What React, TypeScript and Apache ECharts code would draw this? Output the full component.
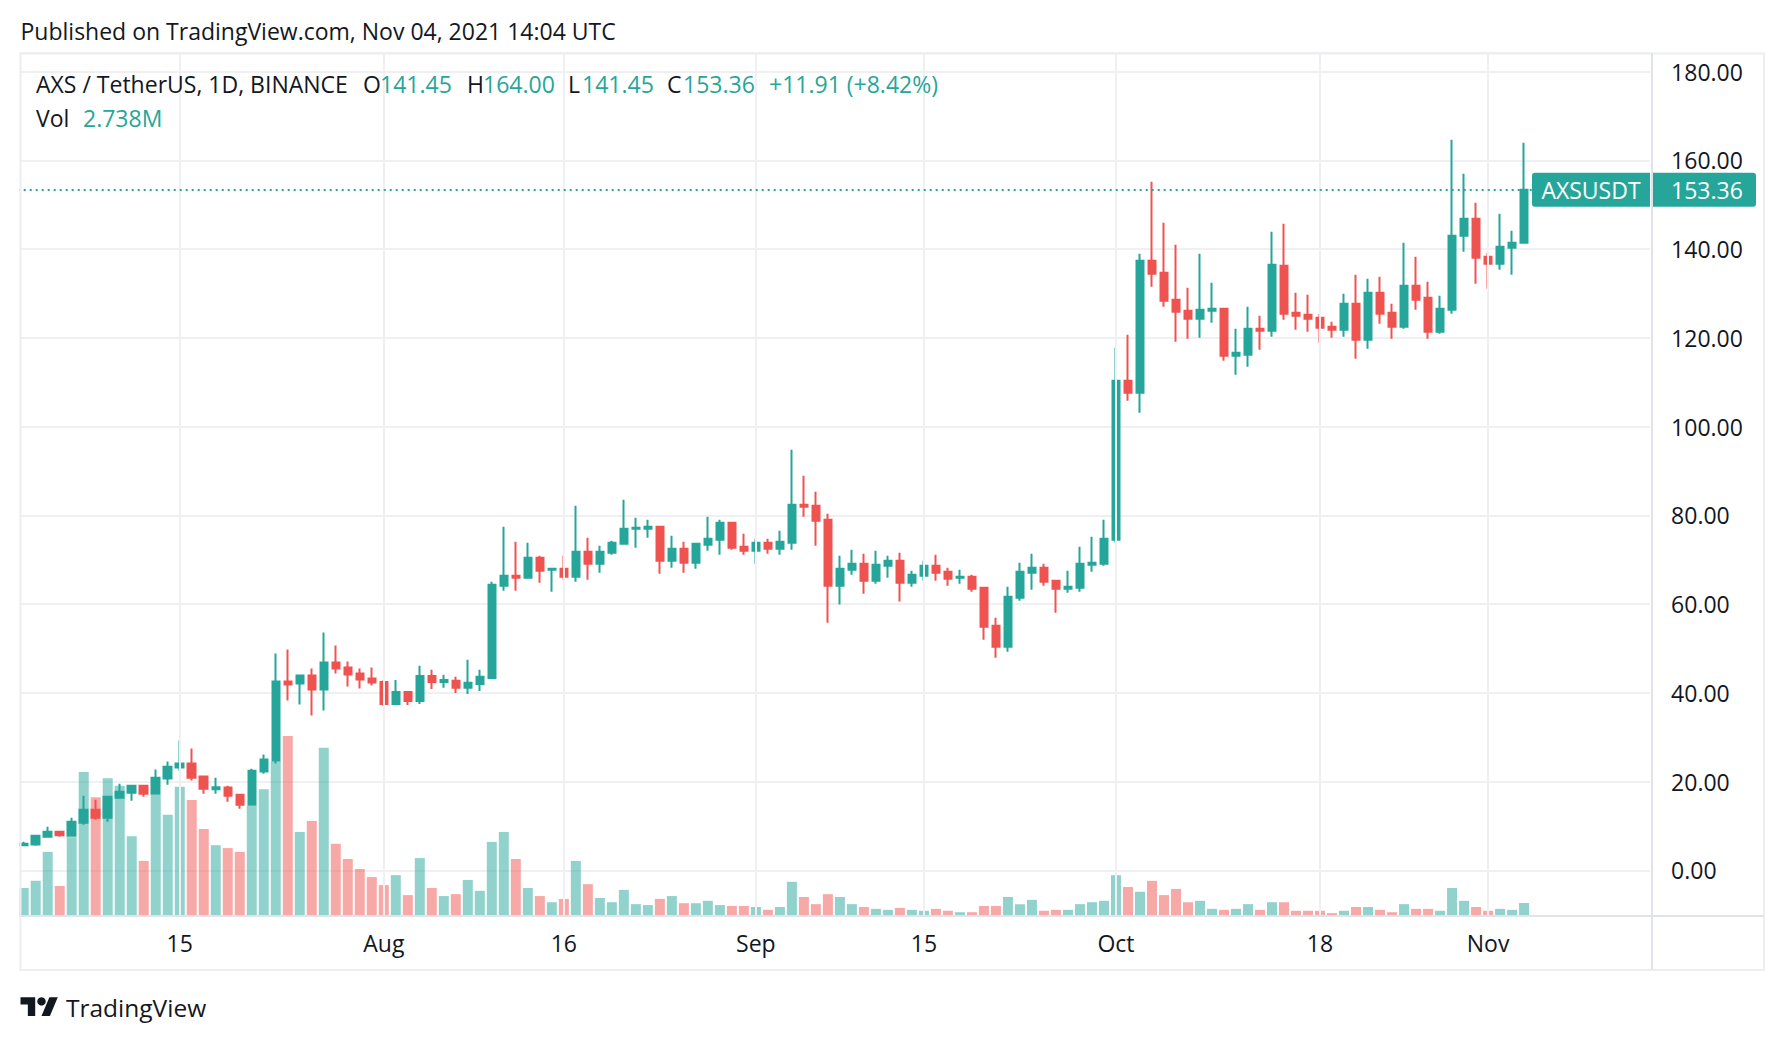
import React, { useEffect, useRef } from "react";
import * as echarts from "echarts";

// ---------- data ----------
// candles: [open, close, low, high]
const julCandles: number[][] = [
  [5.64, 6.02, 5.56, 6.47], [5.86, 7.82, 5.56, 8.05], [7.59, 8.72, 7.37, 9.85], [8.72, 7.89, 7.59, 8.95],
  [7.82, 10.98, 7.82, 11.88], [10.75, 13.68, 10.3, 16.84], [13.68, 11.88, 11.43, 15.94], [11.88, 16.62, 10.98, 16.84],
  [16.39, 17.74, 16.17, 19.55], [17.52, 19.1, 15.71, 19.32], [19.1, 17.29, 16.62, 19.32], [17.29, 20.9, 17.29, 22.71],
  [20.68, 23.38, 19.32, 24.51], [23.16, 24.06, 22.48, 29.25], [24.06, 20.9, 20.23, 27.44], [21.13, 18.42, 17.29, 21.35],
  [18.27, 18.72, 17.29, 20.9], [18.65, 16.84, 15.49, 19.1], [17.07, 14.81, 13.91, 17.29], [14.81, 22.48, 14.59, 22.93],
  [22.26, 24.96, 21.8, 26.09], [24.74, 42.56, 24.06, 48.88], [42.56, 41.88, 38.27, 49.78], [42.11, 43.91, 37.37, 44.14],
  [43.91, 40.75, 34.89, 45.49], [40.75, 46.84, 36.02, 53.61], [46.84, 45.49, 44.36, 50.67], [45.72, 44.14, 41.43, 47.07],
  [44.36, 43.01, 40.98, 45.49], [43.24, 42.33, 41.65, 45.72],
];
const augCandles: number[][] = [
  [42.48, 37.52, 37.07, 42.93], [37.52, 40.22, 37.52, 42.93], [40.22, 38.19, 37.29, 40.22], [38.19, 43.83, 37.52, 46.09],
  [43.83, 42.48, 40.9, 45.19], [42.48, 42.93, 41.13, 44.06], [42.71, 41.13, 40.0, 43.61], [41.13, 42.26, 39.77, 47.44],
  [42.03, 43.61, 40.45, 45.19], [43.38, 64.36, 43.16, 65.04], [64.13, 66.39, 63.0, 77.44], [66.39, 65.94, 63.0, 74.06],
  [65.94, 70.45, 65.71, 73.83], [70.45, 67.52, 64.81, 70.9], [67.74, 67.97, 62.78, 67.97], [67.97, 66.17, 65.49, 70.9],
  [66.17, 71.8, 65.04, 82.18], [71.8, 69.1, 65.49, 74.96], [69.1, 71.8, 67.07, 73.16], [71.58, 73.83, 71.13, 74.29],
  [73.61, 76.99, 73.38, 83.53], [76.99, 77.22, 72.71, 79.47], [76.99, 77.44, 74.96, 79.02], [77.44, 69.77, 66.84, 77.67],
  [69.77, 72.48, 68.2, 75.41], [72.48, 69.32, 67.07, 74.06], [69.32, 73.61, 67.97, 73.61], [73.38, 74.74, 72.03, 79.7],
  [74.51, 78.35, 71.13, 79.02], [78.35, 72.71, 72.26, 78.35], [72.93, 72.03, 71.13, 75.86],
];
const sepCandles: number[][] = [
  [72.03, 73.83, 69.1, 74.74], [73.83, 72.48, 71.35, 74.74], [72.48, 74.06, 71.13, 76.54], [73.83, 82.41, 72.26, 94.81],
  [82.41, 81.95, 79.7, 88.95], [82.18, 78.8, 73.16, 85.34], [79.02, 64.13, 55.79, 80.38], [64.13, 67.97, 59.92, 70.9],
  [67.74, 69.1, 66.62, 72.26], [69.1, 65.26, 62.33, 71.35], [65.26, 68.87, 64.58, 72.03], [68.65, 69.77, 65.94, 70.9],
  [69.77, 64.81, 60.6, 71.58], [64.81, 66.62, 63.91, 67.52], [66.39, 68.65, 65.26, 69.77], [68.65, 67.07, 65.26, 71.13],
  [67.29, 65.71, 64.13, 68.2], [65.94, 66.17, 64.58, 67.74], [66.17, 63.46, 62.78, 66.62], [63.68, 54.89, 51.96, 63.91],
  [55.11, 50.38, 47.9, 56.92], [50.38, 61.65, 49.25, 63.91], [61.43, 67.29, 60.75, 69.32], [67.07, 68.2, 63.23, 71.35],
  [68.2, 65.04, 64.13, 69.1], [65.26, 63.46, 58.05, 65.49], [63.46, 63.91, 62.55, 67.52], [63.68, 69.1, 62.78, 72.93],
  [68.87, 69.32, 67.29, 75.19], [69.1, 74.74, 68.65, 79.02],
];
const octCandles: number[][] = [
  [74.51, 110.35, 73.84, 117.78], [110.35, 107.64, 105.84, 120.71], [107.64, 137.39, 103.13, 138.97], [137.39, 134.46, 131.53, 155.19],
  [134.68, 128.37, 127.02, 145.95], [128.6, 125.9, 119.13, 141.0], [126.12, 124.32, 119.81, 131.3], [124.32, 126.35, 120.04, 138.97],
  [126.12, 126.57, 123.42, 132.43], [126.57, 115.98, 114.85, 126.57], [115.98, 116.66, 111.7, 122.06], [116.2, 122.06, 113.5, 127.02],
  [122.06, 121.61, 117.33, 125.0], [121.61, 136.49, 120.26, 143.92], [136.26, 125.44, 124.09, 145.73], [125.67, 124.99, 121.84, 130.18],
  [125.22, 124.32, 121.39, 129.73], [124.54, 122.29, 118.91, 125.44], [122.51, 121.84, 120.04, 123.64], [121.84, 127.7, 120.26, 129.95],
  [127.7, 119.58, 115.3, 134.23], [119.58, 130.18, 117.56, 133.33], [130.18, 125.44, 123.19, 133.78], [125.67, 122.51, 119.81, 127.7],
  [122.51, 131.76, 122.06, 141.45], [131.76, 128.6, 126.35, 138.29], [129.05, 121.39, 119.81, 132.66], [121.39, 126.57, 120.94, 129.5],
  [126.35, 143.02, 125.44, 164.66], [143.02, 146.85, 139.42, 156.99], [146.85, 138.06, 132.21, 150.46],
];
const novCandles: number[][] = [
  [138.29, 136.71, 131.08, 139.19], [136.71, 140.54, 135.36, 147.98], [140.32, 141.45, 134.23, 144.15], [141.45, 153.36, 141.45, 164.0],
];

// volume, millions
const julVol = [5.9, 7.4, 13.5, 6.3, 16.6, 30.3, 25.0, 29.0, 27.4, 16.8, 11.6, 25.5, 21.3, 27.2, 24.4, 18.3, 14.9, 14.3, 13.5, 23.2, 26.7, 32.6, 37.9, 17.7, 20.0, 35.4, 15.2, 12.0, 9.9, 8.2];
const augVol = [6.5, 8.6, 4.4, 12.2, 5.9, 4.2, 4.6, 7.6, 5.3, 15.6, 17.7, 12.0, 5.9, 4.2, 2.9, 3.6, 11.6, 6.7, 3.8, 2.9, 5.5, 2.5, 2.3, 3.6, 4.2, 2.7, 2.7, 3.2, 2.3, 2.1, 2.1];
const sepVol = [1.9, 1.3, 1.9, 7.2, 4.0, 2.5, 4.6, 4.0, 2.5, 1.9, 1.5, 1.3, 1.7, 1.3, 1.1, 1.5, 1.1, 0.8, 0.8, 2.1, 2.1, 4.0, 2.5, 3.4, 1.1, 1.3, 1.3, 2.5, 2.9, 3.2];
const octVol = [8.6, 6.1, 5.1, 7.4, 4.4, 5.7, 2.9, 3.2, 1.5, 1.3, 1.5, 2.5, 1.3, 2.9, 2.9, 1.1, 1.1, 1.1, 0.6, 1.1, 1.9, 1.9, 1.3, 0.8, 2.5, 1.5, 1.5, 1.1, 5.9, 3.2, 1.9];
const novVol = [1.1, 1.5, 1.3, 2.738];

const FIRST_DATE_INDEX = 1; // Jul 2 (categories start Jul 1)
const DAY_COUNT = 137; // Jul 1 .. Nov 14
const tickLabels: Record<string, string> = {
  "2021-07-15": "15", "2021-08-01": "Aug", "2021-08-16": "16", "2021-09-01": "Sep",
  "2021-09-15": "15", "2021-10-01": "Oct", "2021-10-18": "18", "2021-11-01": "Nov",
};
const priceTicks = [0, 20, 40, 60, 80, 100, 120, 140, 160, 180];
const LAST_CLOSE = 153.36;
const SYMBOL = "AXSUSDT";
const TITLE = "Published on TradingView.com, Nov 04, 2021 14:04 UTC";
const INFO = { name: "AXS / TetherUS, 1D, BINANCE", o: "141.45", h: "164.00", l: "141.45", c: "153.36", chg: "+11.91 (+8.42%)", vol: "2.738M" };

const categories: string[] = [];
for (let i = 0; i < DAY_COUNT; i++) {
  categories.push(new Date(Date.UTC(2021, 6, 1 + i)).toISOString().slice(0, 10));
}

const UP = "#26a69a";
const DOWN = "#ef5350";
const UP_VOL = "rgba(38,166,154,0.5)";
const DOWN_VOL = "rgba(239,83,80,0.5)";
const TXT = "#131722";
const FONT = "'Open Sans', 'Liberation Sans', Arial, sans-serif";
const FS = 23;

const TV_PATH = "M14 22H7V11H0V4h14v18zM28 22h-8l7.5-18h8L28 22z";
echarts.graphic.registerShape("tvlogo", echarts.graphic.extendPath(TV_PATH, {}) as any);

export default function App() {
  const ref = useRef<HTMLDivElement>(null);
  useEffect(() => {
    const chart = echarts.init(ref.current!, null, { renderer: "svg", width: 1784, height: 1042 });
    const ohlc = [...julCandles, ...augCandles, ...sepCandles, ...octCandles, ...novCandles];
    const vols = [...julVol, ...augVol, ...sepVol, ...octVol, ...novVol];
    const candleData = ohlc.map((d, i) => [categories[i + FIRST_DATE_INDEX], d[0], d[1], d[2], d[3]]);
    const volData = vols.map((v, i) => ({
      value: [categories[i + FIRST_DATE_INDEX], v],
      itemStyle: { color: ohlc[i][1] >= ohlc[i][0] ? UP_VOL : DOWN_VOL },
    }));
    const t = (id: string, x: number, y: number, text: string, fill: string, size = FS, align = "left") => ({
      type: "text", id, x, y, z: 120,
      style: { text, fill, fontSize: size, fontFamily: FONT, align, verticalAlign: "middle" },
    });

    chart.setOption({
      animation: false,
      backgroundColor: "#ffffff",
      textStyle: { fontFamily: FONT },
      grid: { left: 5.7, top: 53, width: 1644.4, height: 863, containLabel: false, outerBoundsMode: "none" },
      xAxis: {
        type: "category", data: categories, boundaryGap: true,
        axisLine: { show: false }, axisTick: { show: false }, splitLine: { show: false },
        axisLabel: {
          interval: (_i: number, v: string) => v in tickLabels,
          formatter: (v: string) => tickLabels[v] ?? "",
          color: TXT, fontSize: FS, margin: 15, fontFamily: FONT,
        },
      },
      yAxis: [
        {
          type: "value", position: "right", min: -10.28, max: 184.2, minInterval: 20, maxInterval: 20, splitNumber: 10,
          axisLine: { show: false }, axisTick: { show: false },
          splitLine: { show: true, lineStyle: { color: "#f0f0f3", width: 2 } },
          axisLabel: {
            color: TXT, fontSize: FS, margin: 21, fontFamily: FONT, showMinLabel: false, showMaxLabel: false,
            formatter: (v: number) => (priceTicks.some((p) => Math.abs(p - v) < 1e-6) ? v.toFixed(2) : ""),
          },
        },
        { type: "value", min: 0, max: 181.7, show: false, splitLine: { show: false } },
      ],
      series: [
        {
          type: "line", data: [], z: 0, silent: true,
          markLine: {
            silent: true, symbol: ["none", "none"], label: { show: false },
            lineStyle: { color: "#f0f0f3", width: 2, type: "solid" },
            data: Object.keys(tickLabels).map((d) => ({ xAxis: d })),
          },
        },
        { type: "bar", yAxisIndex: 1, barWidth: 10, data: volData, z: 1, silent: true },
        {
          type: "candlestick", yAxisIndex: 0, barWidth: 8, z: 3, silent: true,
          encode: { x: 0, y: [1, 2, 3, 4] },
          data: candleData,
          itemStyle: { color: UP, color0: DOWN, borderColor: UP, borderColor0: DOWN, borderWidth: 2 },
          markLine: {
            silent: true, symbol: ["none", "none"], label: { show: false },
            lineStyle: { color: UP, width: 2, type: [2, 4] },
            data: [{ yAxis: LAST_CLOSE }],
          },
        },
      ],
      graphic: {
        elements: [
          { type: "rect", id: "cover", z: 100, shape: { x: 0, y: 40, width: 19.5, height: 880 }, style: { fill: "#ffffff" } },
          { type: "rect", id: "frame", z: 110, shape: { x: 20.5, y: 53.5, width: 1743.5, height: 916.5 }, style: { fill: "none", stroke: "#eceef2", lineWidth: 2 } },
          { type: "line", id: "sepV", z: 110, shape: { x1: 1652, y1: 53, x2: 1652, y2: 970 }, style: { stroke: "#e0e3eb", lineWidth: 2 } },
          { type: "line", id: "sepH", z: 110, shape: { x1: 20.5, y1: 916, x2: 1764, y2: 916 }, style: { stroke: "#e0e3eb", lineWidth: 2 } },
          t("title", 20.5, 31, TITLE, TXT),
          t("name", 36, 84, INFO.name, TXT),
          t("oL", 363, 84, "O", TXT), t("oV", 380, 84, INFO.o, UP),
          t("hL", 467, 84, "H", TXT), t("hV", 483, 84, INFO.h, UP),
          t("lL", 568, 84, "L", TXT), t("lV", 582, 84, INFO.l, UP),
          t("cL", 667, 84, "C", TXT), t("cV", 683, 84, INFO.c, UP),
          t("chg", 769, 84, INFO.chg, UP),
          t("volL", 36, 118, "Vol", TXT), t("volV", 83, 118, INFO.vol, UP),
          {
            type: "group", id: "logo", x: 20.5, y: 993, scaleX: 1.05, scaleY: 1.05, z: 120,
            children: [
              { type: "tvlogo", style: { fill: TXT } },
              { type: "circle", shape: { cx: 20, cy: 8, r: 4 }, style: { fill: TXT } },
            ],
          },
          t("brand", 66, 1007, "TradingView", TXT, 24.5),
        ],
      },
    });

    const py = chart.convertToPixel({ yAxisIndex: 0 }, LAST_CLOSE) as number;
    chart.setOption({
      graphic: {
        elements: [
          { type: "rect", id: "symBox", z: 130, shape: { x: 1532, y: py - 17, width: 118, height: 34, r: [3, 0, 0, 3] }, style: { fill: UP } },
          { type: "rect", id: "priceBox", z: 130, shape: { x: 1653, y: py - 17, width: 103, height: 34, r: [0, 3, 3, 0] }, style: { fill: UP } },
          t("symTxt", 1591, py, SYMBOL, "#ffffff", FS, "center"),
          { ...t("priceTxt", 1671, py, LAST_CLOSE.toFixed(2), "#ffffff"), z: 140 },
        ].map((e: any) => ({ ...e, z: Math.max(e.z ?? 0, 130) })),
      },
    });

    return () => chart.dispose();
  }, []);
  return (
    <div
      ref={ref}
      style={{ position: "fixed", left: 0, top: 0, width: 1784, height: 1042, background: "#ffffff" }}
    />
  );
}
